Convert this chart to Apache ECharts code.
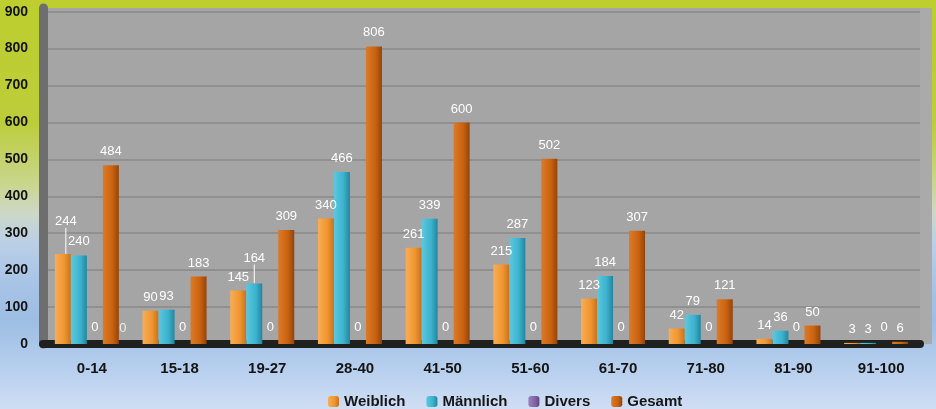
<!DOCTYPE html>
<html>
<head>
<meta charset="utf-8">
<script src="https://cdn.jsdelivr.net/npm/echarts@6/dist/echarts.min.js"></script>
<style>
  html, body { margin: 0; padding: 0; }
  #chart { width: 936px; height: 409px; }
</style>
</head>
<body>
<div id="chart"></div>
<script>
// age groups and counts
const categories = ['0-14', '15-18', '19-27', '28-40', '41-50', '51-60', '61-70', '71-80', '81-90', '91-100'];
const weiblich = [244, 90, 145, 340, 261, 215, 123, 42, 14, 3];
const maennlich = [240, 93, 164, 466, 339, 287, 184, 79, 36, 3];
const divers = [0, 0, 0, 0, 0, 0, 0, 0, 0, 0];
const gesamt = [484, 183, 309, 806, 600, 502, 307, 121, 50, 6];
// the stray "0" label that sits right of the first group
const strayZero = [0, null, null, null, null, null, null, null, null, null];
const seriesNames = ['Weiblich', 'Männlich', 'Divers', 'Gesamt'];

const font = '"Liberation Sans", Arial, sans-serif';

const barGrad = (a, b, c) => new echarts.graphic.LinearGradient(0, 0, 1, 0, [
  { offset: 0, color: a },
  { offset: 0.6, color: b },
  { offset: 1, color: c },
]);

const valueLabel = {
  show: true,
  position: 'top',
  distance: 7,
  color: '#ffffff',
  fontSize: 13,
  fontFamily: font,
};

// lift a label that collides with its neighbour and draw a leader line to it
const lifted = (arr, idx) => arr.map((v, i) => (i === idx ? { value: v, labelLine: { show: true } } : v));

const chart = echarts.init(document.getElementById('chart'));

chart.setOption({
  animation: false,
  backgroundColor: {
    type: 'linear', x: 0, y: 0, x2: 0, y2: 1,
    colorStops: [
      { offset: 0, color: '#bdce2e' },
      { offset: 0.3, color: '#bccd3a' },
      { offset: 0.45, color: '#c9d68e' },
      { offset: 0.52, color: '#cdd8c6' },
      { offset: 0.59, color: '#bccfe6' },
      { offset: 0.69, color: '#a8c4e6' },
      { offset: 0.78, color: '#9dbde3' },
      { offset: 0.9, color: '#b6cfee' },
      { offset: 1, color: '#d0def4' },
    ],
  },
  textStyle: { fontFamily: font },
  // right-hand side wall of the 3D plot box
  graphic: [
    {
      type: 'rect',
      right: 4,
      top: 8,
      z: -1,
      shape: { width: 13, height: 336 },
      style: { fill: '#aaaaaa' },
    },
  ],
  grid: {
    left: 43,
    right: 16,
    top: 8,
    bottom: 65,
    show: true,
    backgroundColor: '#a5a5a5',
    borderWidth: 0,
  },
  legend: {
    data: seriesNames,
    left: 323,
    top: 389,
    itemWidth: 11,
    itemHeight: 11,
    itemGap: 21,
    textStyle: { fontFamily: font, fontSize: 15, fontWeight: 'bold', color: '#161616' },
  },
  xAxis: {
    type: 'category',
    data: categories,
    axisTick: { show: false },
    axisLine: { lineStyle: { color: '#202020', width: 8 } },
    axisLabel: {
      margin: 17,
      padding: [0, 0, 0, 10],
      fontFamily: font,
      fontSize: 15,
      fontWeight: 'bold',
      color: '#141414',
    },
  },
  yAxis: {
    type: 'value',
    min: 0,
    max: 910,
    interval: 100,
    axisLine: { show: true, lineStyle: { color: '#6e6e6e', width: 9 } },
    axisTick: { show: false },
    axisLabel: {
      margin: 15,
      showMaxLabel: false,
      fontFamily: font,
      fontSize: 14,
      fontWeight: 'bold',
      color: '#141414',
    },
    splitLine: { showMaxLine: false, lineStyle: { color: '#8a8a8a', width: 1.5 } },
  },
  series: [
    {
      name: 'Weiblich',
      type: 'bar',
      barWidth: 16,
      barGap: '0%',
      data: lifted(weiblich, 0),
      itemStyle: { color: barGrad('#f8ad55', '#ef9530', '#c8721c') },
      label: valueLabel,
      labelLine: { lineStyle: { color: '#ffffff', width: 1 } },
      labelLayout: (p) => (p.dataIndex === 0 ? { dx: 3, dy: -19 } : {}),
    },
    {
      name: 'Männlich',
      type: 'bar',
      barWidth: 16,
      barGap: '0%',
      data: lifted(maennlich, 2),
      itemStyle: { color: barGrad('#5cc8df', '#3cb2cc', '#23859f') },
      label: valueLabel,
      labelLine: { lineStyle: { color: '#ffffff', width: 1 } },
      labelLayout: (p) => (p.dataIndex === 2 ? { dy: -12 } : {}),
    },
    {
      name: 'Divers',
      type: 'bar',
      barWidth: 16,
      barGap: '0%',
      data: divers,
      itemStyle: { color: barGrad('#9a80bb', '#8064a2', '#5e4880') },
      label: Object.assign({}, valueLabel, { distance: 10 }),
    },
    {
      name: 'Gesamt',
      type: 'bar',
      barWidth: 16,
      barGap: '0%',
      data: gesamt,
      itemStyle: { color: barGrad('#dc7a28', '#c9620f', '#93440b') },
      label: valueLabel,
    },
    {
      name: 'stray',
      type: 'scatter',
      data: strayZero,
      symbolSize: 1,
      itemStyle: { color: 'rgba(0,0,0,0)' },
      label: {
        show: true,
        position: 'inside',
        offset: [36, -16],
        formatter: '{c}',
        color: '#ffffff',
        fontSize: 13,
        fontFamily: font,
      },
    },
  ],
});
</script>
</body>
</html>
